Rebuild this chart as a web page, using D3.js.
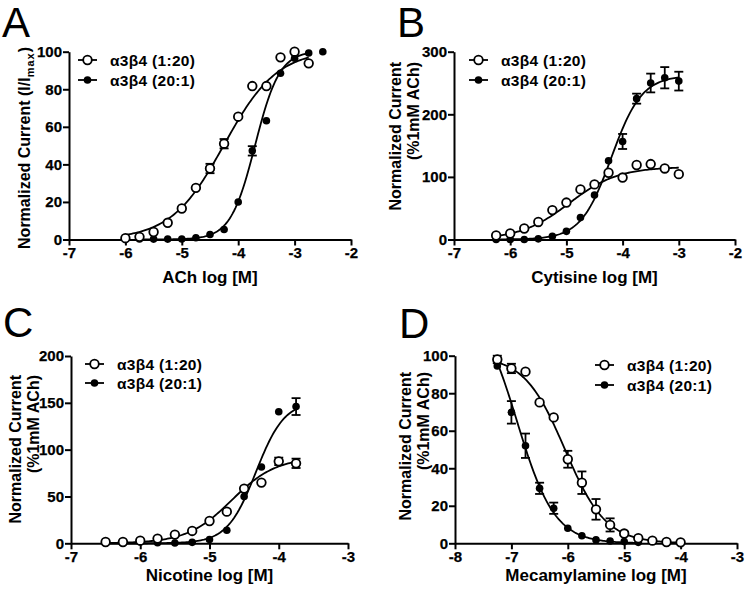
<!DOCTYPE html>
<html><head><meta charset="utf-8">
<script src="https://cdn.jsdelivr.net/npm/d3@7"></script>
<style>
body{margin:0;background:#fff}
svg{display:block}
text{font-family:"Liberation Sans",Arial,Helvetica,sans-serif;fill:#000}
svg .tl{font-family:"Liberation Sans",Arial,sans-serif !important;font-weight:700 !important;font-size:15px !important;fill:#000 !important}
</style>
</head><body>
<svg id="chart" width="745" height="589"></svg>
<script>
// ---------------- DATA ----------------
const seriesNames = ["α3β4 (1:20)", "α3β4 (20:1)"];

// Panel A : ACh
const achLog1  = [-6, -5.75, -5.5, -5.25, -5, -4.75, -4.5, -4.25, -4, -3.75, -3.5, -3.25, -3, -2.75];
const achResp1 = [0.7, 1.4, 4, 8.9, 16.5, 27.5, 37.8, 51, 65.4, 81.7, 81.7, 97, 100, 93.8];
const achErr1  = [0, 0, 0, 0, 0, 0, 2.5, 2.5, 0, 0, 0, 0, 0, 0];
const achLog2  = [-5.75, -5.5, -5.25, -5, -4.75, -4.5, -4.25, -4, -3.75, -3.5, -3.25, -3, -2.75, -2.5];
const achResp2 = [0.3, 0.2, 0.2, 0.3, 0.9, 2.7, 5.3, 20, 47.2, 63.2, 88.5, 96.5, 99.3, 100];
const achErr2  = [0, 0, 0, 0, 0, 0, 0, 0, 2.5, 0, 0, 0, 0, 0];
// fitted curves: [bottom, top, logEC50, hill slope]
const achFit1 = [0, 101, -4.25, 0.92];
const achFit2 = [0, 100.5, -3.7, 2.0];
const achTicksX = [-7, -6, -5, -4, -3, -2];
const achTicksY = [0, 20, 40, 60, 80, 100];

// Panel B : Cytisine
const cytLog   = [-6.25, -6, -5.75, -5.5, -5.25, -5, -4.75, -4.5, -4.25, -4, -3.75, -3.5, -3.25, -3];
const cytResp1 = [6.4, 9.6, 17.6, 28, 47, 59, 80, 88, 106.6, 99, 119, 120.5, 113.5, 104.4];
const cytErr1  = [0, 0, 0, 0, 0, 0, 0, 0, 0, 0, 0, 0, 0, 0];
const cytResp2 = [0, 0, 0, 1, 5, 13, 35, 71, 125.7, 156.6, 225, 250, 258.4, 253];
const cytErr2  = [0, 0, 0, 0, 0, 0, 0, 0, 0, 12, 8, 15, 17, 15];
const cytFit1 = [0, 116, -4.95, 1.0];
const cytFit2 = [0, 262, -4.2, 1.6];
const cytTicksX = [-7, -6, -5, -4, -3, -2];
const cytTicksY = [0, 100, 200, 300];

// Panel C : Nicotine
const nicLog1  = [-6.5, -6.25, -6, -5.75, -5.5, -5.25, -5, -4.75, -4.5, -4.25, -4, -3.75];
const nicResp1 = [1.4, 1.4, 2.8, 5, 9.3, 13.2, 23.8, 33.8, 58.4, 64.8, 87.5, 85.4];
const nicErr1  = [0, 0, 0, 0, 0, 0, 0, 0, 0, 0, 4, 5];
const nicLog2  = [-5.75, -5.5, -5.25, -5, -4.75, -4.5, -4.25, -4, -3.75];
const nicResp2 = [0.7, 0.3, 1, 4, 14, 50, 81.5, 140.5, 146];
const nicErr2  = [0, 0, 0, 0, 0, 0, 0, 0, 9];
const nicFit1 = [0, 92, -4.68, 1.35];
const nicFit2 = [0, 152, -4.33, 2.1];
const nicTicksX = [-7, -6, -5, -4, -3];
const nicTicksY = [0, 50, 100, 150, 200];

// Panel D : Mecamylamine
const mecLog1  = [-7.25, -7, -6.75, -6.5, -6.25, -6, -5.75, -5.5, -5.25, -5, -4.75, -4.5, -4.25, -4];
const mecResp1 = [98, 93.2, 91.5, 75.1, 67.1, 44.8, 32.3, 18.1, 9.8, 5.2, 2.7, 1.4, 0.7, 0.5];
const mecErr1  = [2, 2.5, 0, 0, 0, 4.5, 6, 5.5, 3.5, 1, 0, 0, 0, 0];
const mecLog2  = [-7.25, -7, -6.75, -6.5, -6.25, -6, -5.75, -5.5, -5.25, -5, -4.75];
const mecResp2 = [94.5, 69.8, 52, 29.3, 18.7, 8, 4, 1.8, 1.2, 0.9, 0.5];
const mecErr2  = [0, 6, 6.5, 3, 3, 0, 0, 0, 0, 0, 0];
const mecFit1 = [0, 100, -6.05, -1.2];
const mecFit2 = [0, 130, -6.9, -1.3];
const mecTicksX = [-8, -7, -6, -5, -4, -3];
const mecTicksY = [0, 20, 40, 60, 80, 100];

// ---------------- LAYOUT ----------------
const zip = (xs, ys, es) => xs.map((x, i) => ({x, y: ys[i], e: es[i]}));
const hill = (p, x) => p[0] + (p[1] - p[0]) / (1 + Math.pow(10, (p[2] - x) * p[3]));
const fmt = d => String(d);  // plain hyphen-minus like the original

const panels = [
  {letter: "A", lx: 2, ly: 37,
   x0: 69, x1: 351, yb: 239.5, yt: 51.7,
   xd: [-7, -2], yd: [0, 100], tx: achTicksX, ty: achTicksY,
   xTitle: "ACh log [M]", xTitleY: 283,
   yTitle: ["Normalized Current (I/I", "max", ")"], yTitleX: [30], yTitleTop: 47,
   legX: 78, legY: [60, 80],
   s1: zip(achLog1, achResp1, achErr1), s2: zip(achLog2, achResp2, achErr2),
   f1: achFit1, f2: achFit2, c1: [-6, -2.75], c2: [-5.75, -2.75]},
  {letter: "B", lx: 397, ly: 37,
   x0: 454, x1: 735, yb: 239.5, yt: 51.7,
   xd: [-7, -2], yd: [0, 300], tx: cytTicksX, ty: cytTicksY,
   xTitle: "Cytisine log [M]", xTitleY: 283,
   yTitle: ["Normalized Current", "(%1mM ACh)"], yTitleX: [401, 419], yTitleTop: 62,
   legX: 469, legY: [60, 80],
   s1: zip(cytLog, cytResp1, cytErr1), s2: zip(cytLog, cytResp2, cytErr2),
   f1: cytFit1, f2: cytFit2, c1: [-6.25, -3], c2: [-6.25, -3]},
  {letter: "C", lx: 3, ly: 337,
   x0: 71, x1: 348, yb: 543.3, yt: 356,
   xd: [-7, -3], yd: [0, 200], tx: nicTicksX, ty: nicTicksY,
   xTitle: "Nicotine log [M]", xTitleY: 581,
   yTitle: ["Normalized Current", "(%1mM ACh)"], yTitleX: [21, 39], yTitleTop: 375,
   legX: 85, legY: [364, 383],
   s1: zip(nicLog1, nicResp1, nicErr1), s2: zip(nicLog2, nicResp2, nicErr2),
   f1: nicFit1, f2: nicFit2, c1: [-6.5, -3.75], c2: [-6.5, -3.75]},
  {letter: "D", lx: 399, ly: 338,
   x0: 455, x1: 737, yb: 543.3, yt: 355.7,
   xd: [-8, -3], yd: [0, 100], tx: mecTicksX, ty: mecTicksY,
   xTitle: "Mecamylamine log [M]", xTitleY: 581,
   yTitle: ["Normalized Current", "(%1mM ACh)"], yTitleX: [411, 429], yTitleTop: 372,
   legX: 595, legY: [365, 385],
   s1: zip(mecLog1, mecResp1, mecErr1), s2: zip(mecLog2, mecResp2, mecErr2),
   f1: mecFit1, f2: mecFit2, c1: [-7.25, -4], c2: [-7.25, -4.75]}
];

const svg = d3.select("#chart");
const R_OPEN = 4.3, R_FILL = 3.8, CAP = 4.5;

panels.forEach(p => {
  const g = svg.append("g");
  const x = d3.scaleLinear().domain(p.xd).range([p.x0, p.x1]);
  const y = d3.scaleLinear().domain(p.yd).range([p.yb, p.yt]);

  // panel letter
  g.append("text").attr("x", p.lx).attr("y", p.ly)
    .attr("font-size", 42).text(p.letter);

  // axes
  const xAxis = d3.axisBottom(x).tickValues(p.tx).tickFormat(fmt)
    .tickSize(6).tickPadding(2).tickSizeOuter(0);
  const yAxis = d3.axisLeft(y).tickValues(p.ty).tickFormat(fmt)
    .tickSize(6).tickPadding(1).tickSizeOuter(0);
  const gx = g.append("g").attr("transform", `translate(0,${p.yb})`).call(xAxis);
  const gy = g.append("g").attr("transform", `translate(${p.x0},0)`).call(yAxis);
  [gx, gy].forEach(a => {
    a.attr("font-family", '"Liberation Sans", Arial, sans-serif').attr("font-size", 15)
      .attr("font-weight", 700);
    a.select(".domain").attr("stroke", "#000").attr("stroke-width", 2);
    a.selectAll(".tick line").attr("stroke", "#000").attr("stroke-width", 2);
    a.selectAll(".tick text").attr("class", "tl").attr("fill", "#000")
      .attr("font-weight", 700).attr("stroke", "#000").attr("stroke-width", 0.25);
  });

  // axis titles
  g.append("text").attr("x", (p.x0 + p.x1) / 2).attr("y", p.xTitleY)
    .attr("text-anchor", "middle").style("font-size", "17px").style("font-weight", "bold")
    .text(p.xTitle);

  if (p.letter === "A") {
    const t = g.append("text").attr("text-anchor", "end")
      .attr("transform", `translate(${p.yTitleX[0]},${p.yTitleTop}) rotate(-90)`)
      .style("font-size", "16px").style("font-weight", "bold");
    t.append("tspan").text(p.yTitle[0]);
    t.append("tspan").style("font-size", "11px").attr("dy", 4).attr("letter-spacing", 1).text(p.yTitle[1]);
    t.append("tspan").attr("dy", -4).text(p.yTitle[2]);
  } else {
    p.yTitle.forEach((s, i) => {
      g.append("text").attr("text-anchor", "end")
        .attr("transform", `translate(${p.yTitleX[i]},${p.yTitleTop}) rotate(-90)`)
        .style("font-size", "16px").style("font-weight", "bold").text(s);
    });
  }

  // fitted curves
  const line = d3.line().x(d => x(d[0])).y(d => y(d[1]));
  [[p.f1, p.c1], [p.f2, p.c2]].forEach(([f, c]) => {
    const pts = d3.range(0, 121).map(i => {
      const xv = c[0] + (c[1] - c[0]) * i / 120;
      return [xv, hill(f, xv)];
    });
    g.append("path").attr("d", line(pts)).attr("fill", "none")
      .attr("stroke", "#000").attr("stroke-width", 1.8);
  });

  // error bars
  const drawErr = data => {
    data.filter(d => d.e > 0).forEach(d => {
      const cx = x(d.x), yl = y(d.y - d.e), yh = y(d.y + d.e);
      g.append("line").attr("x1", cx).attr("x2", cx).attr("y1", yl).attr("y2", yh)
        .attr("stroke", "#000").attr("stroke-width", 1.8);
      [yl, yh].forEach(yy => g.append("line").attr("x1", cx - CAP).attr("x2", cx + CAP)
        .attr("y1", yy).attr("y2", yy).attr("stroke", "#000").attr("stroke-width", 1.8));
    });
  };
  drawErr(p.s2);
  drawErr(p.s1);

  // points: filled then open
  g.selectAll(null).data(p.s2).join("circle")
    .attr("cx", d => x(d.x)).attr("cy", d => y(d.y)).attr("r", R_FILL)
    .attr("fill", "#000");
  g.selectAll(null).data(p.s1).join("circle")
    .attr("cx", d => x(d.x)).attr("cy", d => y(d.y)).attr("r", R_OPEN)
    .attr("fill", "#fff").attr("stroke", "#000").attr("stroke-width", 1.8);

  // legend
  seriesNames.forEach((name, i) => {
    const ly = p.legY[i];
    g.append("line").attr("x1", p.legX).attr("x2", p.legX + 19).attr("y1", ly).attr("y2", ly)
      .attr("stroke", "#000").attr("stroke-width", 1.8);
    if (i === 0) {
      g.append("circle").attr("cx", p.legX + 9.5).attr("cy", ly).attr("r", R_OPEN)
        .attr("fill", "#fff").attr("stroke", "#000").attr("stroke-width", 1.8);
    } else {
      g.append("circle").attr("cx", p.legX + 9.5).attr("cy", ly).attr("r", R_FILL).attr("fill", "#000");
    }
    g.append("text").attr("x", p.legX + 32).attr("y", ly + 6)
      .style("font-size", "15.5px").style("font-weight", "bold").attr("letter-spacing", 0.3).text(name);
  });
});
</script>
</body></html>
